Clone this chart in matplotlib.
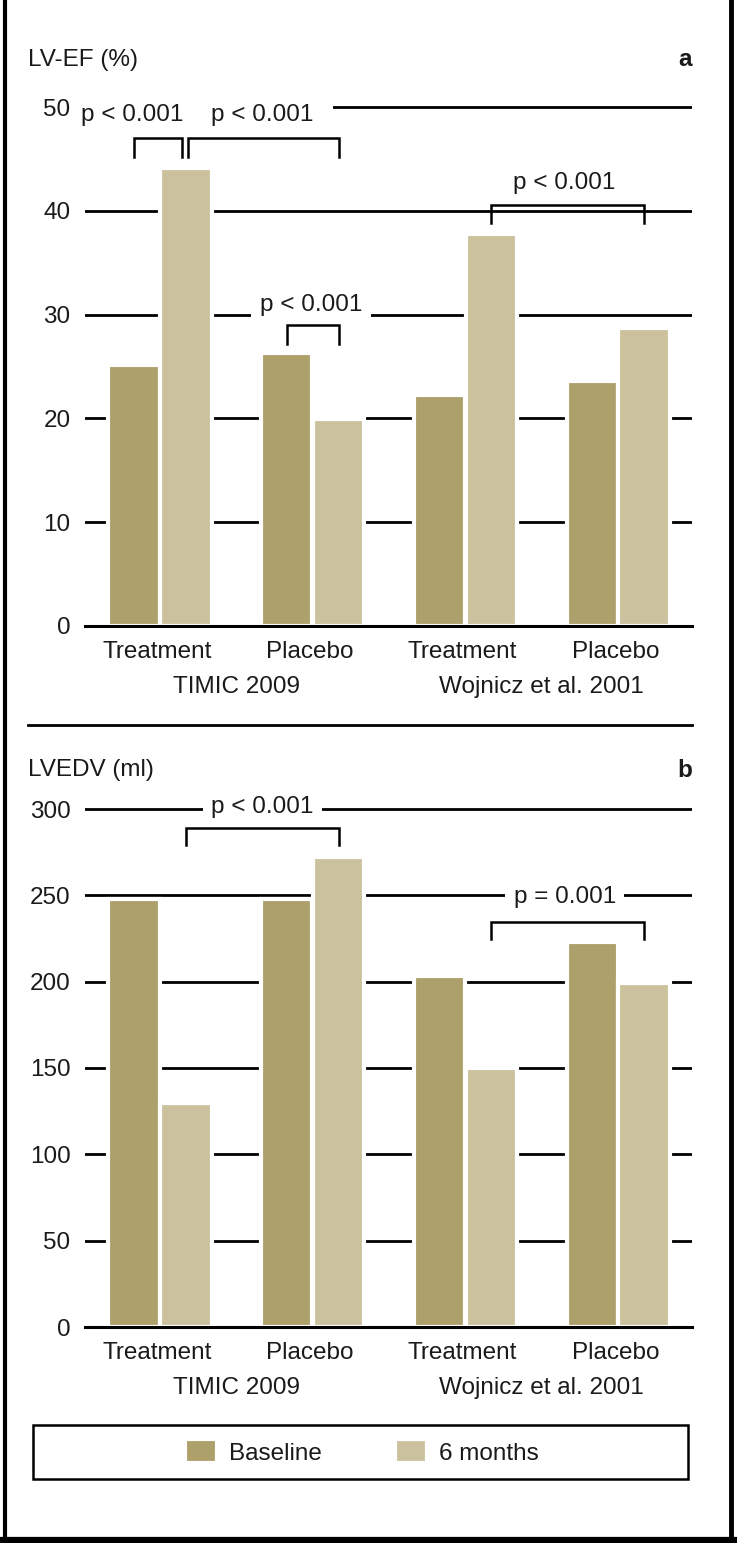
"""
LV-EF and LVEDV at baseline and after 6 months, two studies.
"""
import matplotlib.pyplot as plt
from matplotlib.lines import Line2D
from matplotlib.patches import Rectangle

plt.rcParams['font.family'] = ['Liberation Sans', 'DejaVu Sans']

# ─── Data ───
groups = [0, 1, 2, 3]
arms = ['Treatment', 'Placebo', 'Treatment', 'Placebo']
studies = ['TIMIC 2009', 'Wojnicz et al. 2001']
study_pos = [0.5, 2.5]
series = ['Baseline', '6 months']

ef_baseline = [25.1, 26.3, 22.3, 23.6]
ef_6m = [44.1, 19.9, 37.8, 28.7]
edv_baseline = [248, 248, 203, 223]
edv_6m = [130, 272, 150, 199]

ef_ticks = [0, 10, 20, 30, 40, 50]
edv_ticks = [0, 50, 100, 150, 200, 250, 300]

# significance: (bar from, bar to, bracket top, label, text x, text y)
# bars given as (series index, group index)
ef_tests = [((0, 0), (1, 0), 47.0, 'p < 0.001', -0.18, 49.2),
            ((1, 0), (1, 1), 47.0, 'p < 0.001', 0.67, 49.2),
            ((0, 1), (1, 1), 29.0, 'p < 0.001', 0.99, 30.9),
            ((1, 2), (1, 3), 40.6, 'p < 0.001', 2.65, 42.7)]
edv_tests = [((1, 0), (1, 1), 289, 'p < 0.001', 0.67, 301),
             ((1, 2), (1, 3), 234.5, 'p = 0.001', 2.65, 249)]

# ─── Style ───
c_base = '#ADA06B'
c_6m = '#CBC29D'
c_text = '#1a1a1a'
fs = 17.5
W, H = 737, 1543
off = 0.17
bw = 0.335


def fx(px):
    return px / W


def fy(py):
    return 1 - py / H


fig = plt.figure(figsize=(W / 100, H / 100), dpi=100)


def panel(top_px, bottom_px, ppu, base, six, ticks, tests, leg):
    ax = fig.add_axes([fx(85), fy(bottom_px), (692 - 85) / W, (bottom_px - top_px) / H])
    ax.set_xlim(-0.491, 3.484)
    ax.set_ylim(0, (bottom_px - top_px) / ppu)
    for s in ax.spines.values():
        s.set_visible(False)
    for t in ticks[1:]:
        ax.axhline(t, color='black', lw=2, zorder=1)
    ax.axhline(0, color='black', lw=2.2, zorder=6, clip_on=False)

    xs = [[g - off for g in groups], [g + off for g in groups]]
    b1 = ax.bar(xs[0], base, bw, color=c_base, edgecolor='white', lw=3, zorder=2, label=series[0])
    b2 = ax.bar(xs[1], six, bw, color=c_6m, edgecolor='white', lw=3, zorder=2, label=series[1])

    ax.set_yticks(ticks, [str(t) for t in ticks])
    ax.tick_params(axis='y', length=0, pad=10.5, labelsize=fs, labelcolor=c_text)
    ax.set_xticks([])

    for g, a in zip(groups, arms):
        ax.annotate(a, xy=(g, 0), xycoords=('data', 'axes fraction'), xytext=(-2, -23),
                    textcoords='offset points', ha='center', va='baseline',
                    fontsize=fs, color=c_text)
    for p, s in zip(study_pos, studies):
        ax.annotate(s, xy=(p, 0), xycoords=('data', 'axes fraction'), xytext=(0, -48),
                    textcoords='offset points', ha='center', va='baseline',
                    fontsize=fs, color=c_text)

    for i, ((sa, ga), (sb, gb), top, lab, tx, ty) in enumerate(tests):
        x0 = xs[sa][ga]
        x1 = xs[sb][gb]
        pad = 0.35
        if ticks[-1] == 50 and i == 0:
            x1 -= 0.025
            pad = 0.4
        elif ticks[-1] == 50 and i == 1:
            x0 += 0.015
            pad = 0.8
        ax.plot([x0, x0, x1, x1], [top - leg, top, top, top - leg], color='black',
                lw=1.8, solid_joinstyle='miter', zorder=5)
        ax.text(tx, ty, lab, ha='center', va='center', fontsize=fs, color=c_text, zorder=4,
                bbox=dict(boxstyle='square,pad=%.2f' % pad, fc='white', ec='none'))
    return ax, b1, b2


ax_a, _, _ = panel(80, 626, 519 / 50, ef_baseline, ef_6m, ef_ticks, ef_tests, 1.8)
ax_b, hb, hm = panel(790, 1327, 518 / 300, edv_baseline, edv_6m, edv_ticks, edv_tests, 10)

# ─── Titles ───
fig.text(fx(28), fy(60), 'LV-EF (%)', ha='left', va='center', fontsize=fs, color=c_text)
fig.text(fx(692), fy(60), 'a', ha='right', va='center', fontsize=fs, weight='bold', color=c_text)
fig.text(fx(28), fy(770), 'LVEDV (ml)', ha='left', va='center', fontsize=fs, color=c_text)
fig.text(fx(692), fy(770), 'b', ha='right', va='center', fontsize=fs, weight='bold', color=c_text)

# separator between panels
fig.add_artist(Line2D([fx(28), fx(692)], [fy(725), fy(725)], color='black', lw=2))

# ─── Legend ───
fig.add_artist(Rectangle((fx(33), fy(1479)), (688 - 33) / W, (1479 - 1425) / H,
                         transform=fig.transFigure, fill=False, ec='black', lw=1.8))
fig.legend([hb, hm], series, loc='center', bbox_to_anchor=(fx(362), fy(1452)),
           ncol=2, frameon=False, fontsize=fs, handlelength=1.3, handleheight=1.15,
           handletextpad=0.5, columnspacing=3.0, labelcolor=c_text)

# ─── Outer frame (left, right, bottom) ───
fig.add_artist(Line2D([fx(4.5), fx(4.5)], [0, 1], color='black', lw=3))
fig.add_artist(Line2D([fx(730.5), fx(730.5)], [0, 1], color='black', lw=3.5))
fig.add_artist(Line2D([0, 1], [fy(1539.5), fy(1539.5)], color='black', lw=4.5))

fig.savefig('out.png', dpi=100, facecolor='white')
plt.close(fig)
